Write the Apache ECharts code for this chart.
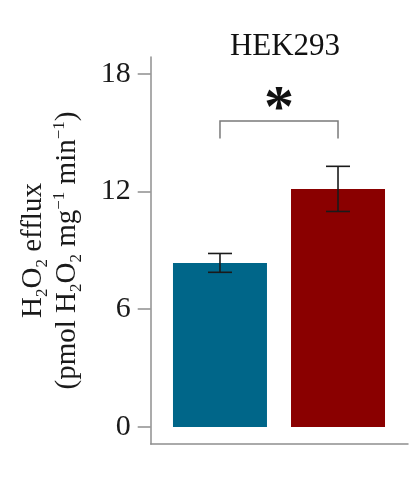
<!DOCTYPE html>
<html>
<head>
<meta charset="utf-8">
<script src="https://cdn.jsdelivr.net/npm/echarts@6/dist/echarts.min.js"></script>
<style>
html,body{margin:0;padding:0;background:#fff;}
#chart{width:418px;height:485px;}
</style>
</head>
<body>
<div id="chart"></div>
<script>
// ---- data ----
var categories = ['Control', 'Treated'];
var means = [8.36, 12.13];
var errors = [0.48, 1.15];
var yTicks = [0, 6, 12, 18];
var sigPair = [1, 2];          // compared bars (1-based positions)
var sigBracket = [15.59, 14.70]; // bracket top, leg bottom
var sigMark = '*';
var sigMarkY = 16.86;
var title = 'HEK293';

// ---- styles ----
var barColors = ['#006689', '#8a0000'];
var serif = '"Liberation Serif"';
var axisGray = '#8f8f8f';

var chart = echarts.init(document.getElementById('chart'));

var barData = means.map(function (m, i) {
  return { value: [i + 1, m], itemStyle: { color: barColors[i] } };
});
var errData = means.map(function (m, i) {
  return [i + 1, m - errors[i], m + errors[i]];
});

chart.setOption({
  animation: false,
  title: {
    text: title,
    left: 280,
    textAlign: 'center',
    top: 26,
    textStyle: { fontFamily: serif, fontSize: 31, fontWeight: 'normal', color: '#111' }
  },
  grid: { left: 150.7, right: 10, top: 57, bottom: 41 },
  xAxis: {
    type: 'value',
    min: 0.413,
    max: 2.593,
    axisLine: { show: true, onZero: false, lineStyle: { color: axisGray, width: 1.5 } },
    axisTick: { show: false },
    axisLabel: { show: false },
    splitLine: { show: false }
  },
  yAxis: {
    type: 'value',
    min: -0.867,
    max: 18.85,
    axisLine: { show: true, onZero: false, lineStyle: { color: axisGray, width: 1.5 } },
    axisTick: { show: true, length: 13, customValues: yTicks, lineStyle: { color: axisGray, width: 1.5 } },
    axisLabel: {
      show: true, customValues: yTicks, margin: 20,
      fontFamily: serif, fontSize: 30, color: '#1a1a1a'
    },
    splitLine: { show: false },
    name: '{t|H}{sub|2}{t|O}{sub|2}{t| efflux}\n{t|(pmol H}{sub|2}{t|O}{sub|2}{t| mg}{sup|−1}{t| min}{sup|−1}{t|)}',
    nameLocation: 'middle',
    nameRotate: 90,
    nameGap: 66,
    nameTextStyle: {
      rich: {
        t: { fontFamily: serif, fontSize: 29, lineHeight: 34, color: '#1a1a1a', verticalAlign: 'middle' },
        sub: { fontFamily: serif, fontSize: 17, lineHeight: 34, color: '#1a1a1a', verticalAlign: 'bottom' },
        sup: { fontFamily: serif, fontSize: 17, color: '#1a1a1a', verticalAlign: 'top' }
      }
    }
  },
  series: [
    {
      type: 'bar',
      data: barData,
      barWidth: 94,
      itemStyle: { borderWidth: 0 }
    },
    {
      type: 'custom',
      data: errData,
      z: 5,
      renderItem: function (params, api) {
        var x = api.value(0);
        var lo = api.coord([x, api.value(1)]);
        var hi = api.coord([x, api.value(2)]);
        var hw = 12;
        var st = { stroke: '#1a1a1a', lineWidth: 1.6 };
        return {
          type: 'group',
          children: [
            { type: 'line', shape: { x1: lo[0], y1: lo[1], x2: hi[0], y2: hi[1] }, style: st },
            { type: 'line', shape: { x1: lo[0] - hw, y1: lo[1], x2: lo[0] + hw, y2: lo[1] }, style: st },
            { type: 'line', shape: { x1: hi[0] - hw, y1: hi[1], x2: hi[0] + hw, y2: hi[1] }, style: st }
          ]
        };
      }
    },
    {
      type: 'custom',
      data: [[sigPair[0], sigPair[1], sigBracket[0], sigBracket[1], sigMarkY]],
      z: 5,
      renderItem: function (params, api) {
        var a = api.coord([api.value(0), api.value(2)]);
        var b = api.coord([api.value(1), api.value(2)]);
        var aL = api.coord([api.value(0), api.value(3)]);
        var bL = api.coord([api.value(1), api.value(3)]);
        var m = api.coord([(api.value(0) + api.value(1)) / 2, api.value(4)]);
        return {
          type: 'group',
          children: [
            {
              type: 'polyline',
              shape: { points: [[aL[0], aL[1]], [a[0], a[1]], [b[0], b[1]], [bL[0], bL[1]]] },
              style: { stroke: '#7a7a7a', lineWidth: 1.5, fill: null }
            },
            {
              type: 'text',
              x: m[0], y: m[1] + 14,
              style: {
                text: sigMark, fontFamily: serif, fontSize: 60, fontWeight: 'bold',
                fill: '#111', align: 'center', verticalAlign: 'middle'
              }
            }
          ]
        };
      }
    }
  ]
});
</script>
</body>
</html>
